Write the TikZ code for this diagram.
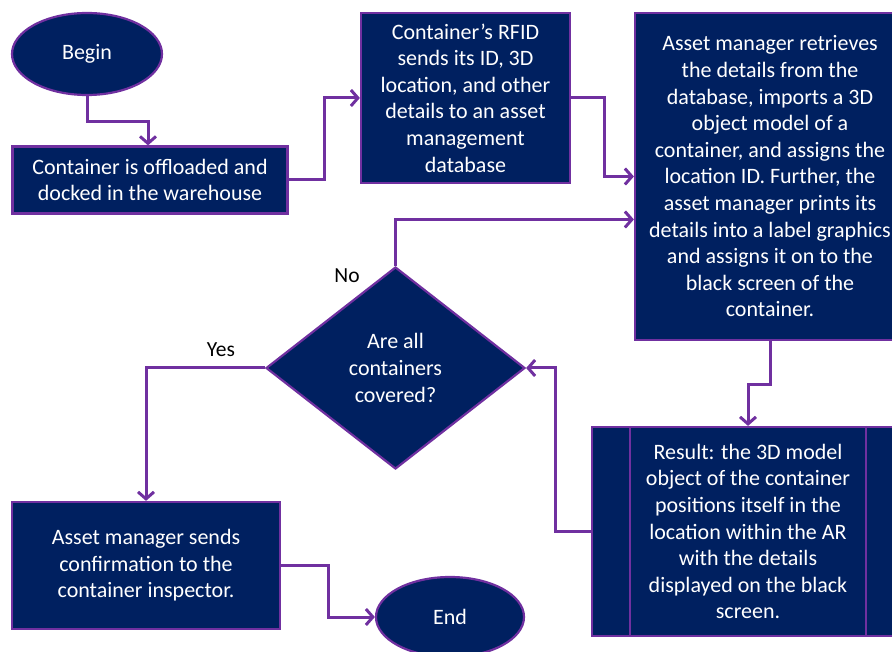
\documentclass[tikz,border=0pt]{standalone}
\usepackage{fontspec}
\setmainfont{Carlito}
\usetikzlibrary{shapes.geometric,arrows.meta,calc}
\definecolor{navy}{HTML}{002060}
\definecolor{purp}{HTML}{7030A0}
\tikzset{
  boxbase/.style={draw=purp, line width=2.2pt, fill=navy, text=white, align=center, inner sep=0pt,
    font=\fontsize{22}{26.6}\selectfont},
  procbox/.style={boxbase, rectangle},
  termnode/.style={boxbase, ellipse},
  decnode/.style={boxbase, diamond, aspect=1.29},
  conn/.style={draw=purp, line width=3pt, -{Straight Barb[length=7pt,width=16pt,line width=3pt]}},
  lbl/.style={font=\fontsize{21.5}{24}\selectfont, text=black}
}
\begin{document}
\begin{tikzpicture}[x=1pt,y=-1pt]
\useasboundingbox (0,0) rectangle (892,652);
\clip (0,0) rectangle (892,652);
\node[termnode, minimum width=150pt, minimum height=82pt] (begin) at (87,54) {Begin};
\node[procbox, minimum width=275pt, minimum height=67pt] (box1) at (150,180) {Container is offloaded and\\docked in the warehouse};
\node[procbox, minimum width=209pt, minimum height=170pt] (box2) at (465.5,98) {Container’s RFID\\sends its ID, 3D\\location, and other\\details to an asset\\management\\database};
\node[procbox, minimum width=270pt, minimum height=327pt] (box3) at (770,176.5) {Asset manager retrieves\\the details from the\\database, imports a 3D\\object model of a\\container, and assigns the\\location ID. Further, the\\asset manager prints its\\details into a label graphics\\and assigns it on to the\\black screen of the\\container.};
\node[decnode, minimum width=259pt, minimum height=202pt] (dia) at (395.5,368) {Are all\\containers\\covered?};
\node[procbox, minimum width=312pt, minimum height=209pt] (res) at (748,531.5) {Result: the 3D model\\object of the container\\positions itself in the\\location within the AR\\with the details\\displayed on the black\\screen.};
\draw[purp, line width=2.2pt] ([xshift=39pt]res.north west) -- ([xshift=39pt]res.south west);
\draw[purp, line width=2.2pt] ([xshift=-39pt]res.north east) -- ([xshift=-39pt]res.south east);
\node[procbox, minimum width=268pt, minimum height=127pt] (box4) at (146,565.5) {Asset manager sends\\confirmation to the\\container inspector.};
\node[termnode, minimum width=148pt, minimum height=80pt] (end) at (450,617) {End};
\node[lbl] (no) at (347,276) {No};
\node[lbl] (yes) at (221,350) {Yes};
% connectors
\draw[conn] (begin.south) -- ++(0,25) -| (box1.north -| 148,0);
\draw[conn] (box1.east) -- ++(36,0) |- (box2.west);
\draw[conn] (box2.east) -- ++(33,0) |- (box3.west);
\draw[conn] (dia.north) |- ([yshift=-43pt]box3.west);
\draw[conn] (box3.south) -- ++(0,43) -| (res.north);
\draw[conn] (res.west) -- ++(-35,0) |- (dia.east);
\draw[conn] (dia.west) -| (box4.north);
\draw[conn] (box4.east) -- ++(47,0) |- (end.west);
\end{tikzpicture}
\end{document}
